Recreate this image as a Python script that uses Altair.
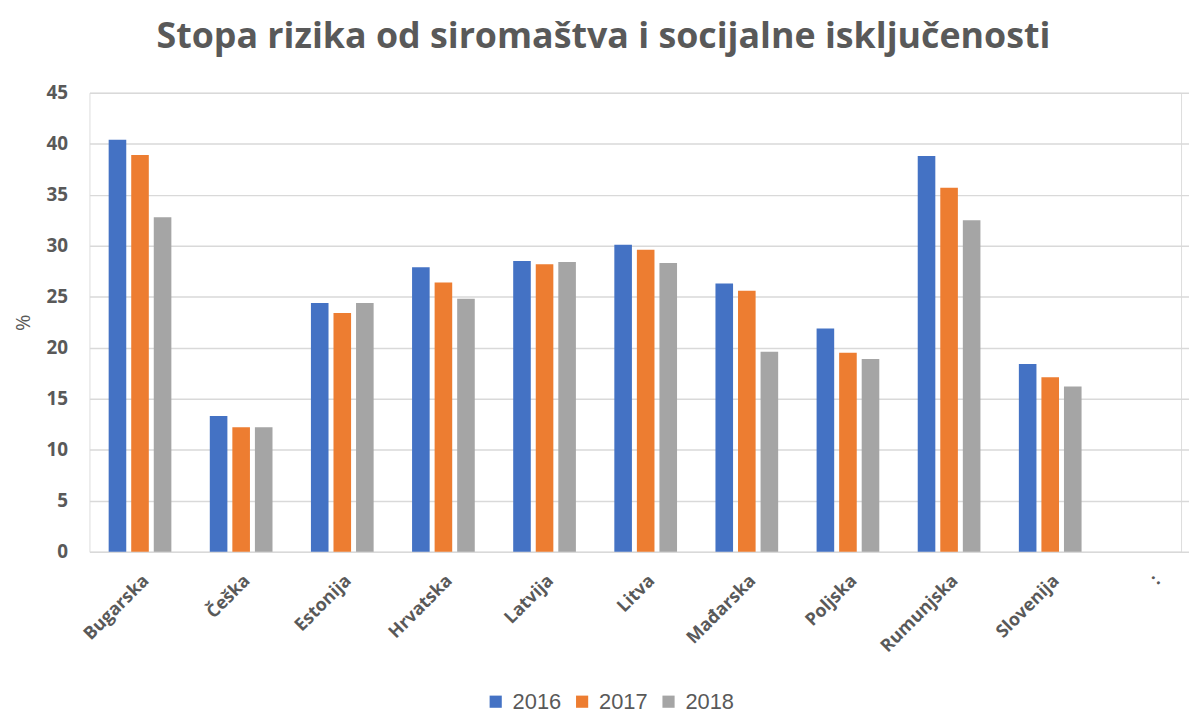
import altair as alt
import pandas as pd

countries = ["Bugarska", "Češka", "Estonija", "Hrvatska", "Latvija", "Litva",
             "Mađarska", "Poljska", "Rumunjska", "Slovenija", ":"]
years = ["2016", "2017", "2018"]
v2016 = [40.4, 13.3, 24.4, 27.9, 28.5, 30.1, 26.3, 21.9, 38.8, 18.4]
v2017 = [38.9, 12.2, 23.4, 26.4, 28.2, 29.6, 25.6, 19.5, 35.7, 17.1]
v2018 = [32.8, 12.2, 24.4, 24.8, 28.4, 28.3, 19.6, 18.9, 32.5, 16.2]
colors = ["#4472C4", "#ED7D31", "#A5A5A5"]

rows = []
for yr, vals in zip(years, [v2016, v2017, v2018]):
    for c, v in zip(countries, vals):
        rows.append({"country": c, "year": yr, "value": v})
df = pd.DataFrame(rows)

GRAY = "#595959"

chart = alt.Chart(df).mark_bar().encode(
    x=alt.X("country:N", sort=countries,
            scale=alt.Scale(domain=countries, range=[0, 1120], paddingInner=0.38, paddingOuter=0.19),
            axis=alt.Axis(title=None, labelAngle=-45, labelAlign="right", labelBaseline="top",
                          labelPadding=20, labelFont="Open Sans", labelFontWeight="bold",
                          labelFontSize=18, labelColor=GRAY, domain=False, ticks=False,
                          labelOverlap=False)),
    xOffset=alt.XOffset("year:N", scale=alt.Scale(paddingInner=0.22, paddingOuter=0)),
    y=alt.Y("value:Q", scale=alt.Scale(domain=[0, 45], nice=False),
            axis=alt.Axis(title="%", values=[0, 5, 10, 15, 20, 25, 30, 35, 40, 45],
                          labelFont="Open Sans", labelFontWeight="bold", labelFontSize=19,
                          labelColor=GRAY, labelPadding=22, domain=False, ticks=False,
                          gridColor="#D9D9D9", gridWidth=1.5,
                          titleFont="Open Sans", titleFontWeight="normal", titleFontSize=20,
                          titleColor=GRAY, titleX=-66, titleY=231, titleAlign="center",
                          titleBaseline="middle")),
    color=alt.Color("year:N", scale=alt.Scale(domain=years, range=colors),
                    legend=alt.Legend(title=None, orient="none", direction="horizontal",
                                      legendX=398, legendY=602, symbolType="square",
                                      symbolSize=150, symbolStrokeWidth=0,
                                      labelFont="Liberation Sans", labelFontSize=22,
                                      labelColor=GRAY, columnPadding=10, labelOffset=6)),
).properties(
    width=1099,
    height=462,
    title=alt.TitleParams("Stopa rizika od siromaštva i socijalne isključenosti",
                          font="Open Sans", fontSize=36, fontWeight="bold", color=GRAY,
                          anchor="middle", frame="group", dx=-32, offset=28),
    autosize=alt.AutoSizeParams(type="none"),
    padding={"left": 82, "top": 83, "right": 8, "bottom": 162},
).configure_view(stroke=None).configure(background="white")

chart.save("out.html", embed_options={"renderer": "svg", "actions": False})
